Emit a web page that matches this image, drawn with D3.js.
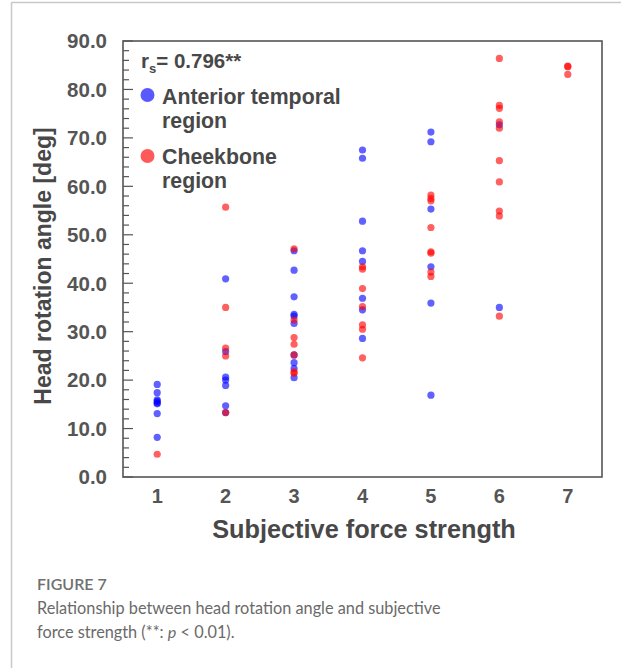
<!DOCTYPE html>
<html>
<head>
<meta charset="utf-8">
<script src="https://cdn.jsdelivr.net/npm/d3@7"></script>
<style>
  body { margin: 0; background: #fff; }
  svg { display: block; }
</style>
</head>
<body>
<div id="chart"></div>
<script>
// force strength levels (x) and head rotation angles (y)
var xTicks = [1, 2, 3, 4, 5, 6, 7]
var yTicks = [0, 10, 20, 30, 40, 50, 60, 70, 80, 90]

var temporalX = [1, 1, 1, 1, 1, 1, 1, 1,
                 2, 2, 2, 2, 2, 2, 2,
                 3, 3, 3, 3, 3, 3, 3, 3, 3, 3,
                 4, 4, 4, 4, 4, 4, 4, 4,
                 5, 5, 5, 5, 5, 5,
                 6, 6]
var temporalY = [19.1, 17.4, 15.9, 15.3, 15.1, 13.1, 8.2, 15.6,
                 40.9, 25.9, 20.6, 20.0, 18.9, 14.7, 13.3,
                 46.7, 42.7, 37.2, 33.6, 33.2, 31.7, 25.2, 23.6, 22.4, 20.5,
                 67.5, 65.8, 52.8, 46.7, 44.5, 36.9, 34.5, 28.6,
                 71.2, 69.2, 55.3, 43.4, 35.9, 16.9,
                 72.7, 35.0]

var cheekX = [1,
              2, 2, 2, 2, 2,
              3, 3, 3, 3, 3, 3, 3,
              4, 4, 4, 4, 4, 4, 4,
              5, 5, 5, 5, 5, 5, 5, 5,
              6, 6, 6, 6, 6, 6, 6, 6, 6, 6,
              7, 7, 7]
var cheekY = [4.7,
              55.7, 35.0, 26.6, 25.0, 13.3,
              47.1, 32.4, 28.8, 27.4, 25.2, 21.7, 21.4,
              43.4, 42.9, 38.9, 35.2, 31.4, 30.5, 24.6,
              58.2, 57.5, 57.0, 51.5, 46.5, 46.2, 42.3, 41.4,
              86.4, 76.7, 76.1, 73.3, 72.0, 65.3, 60.9, 54.9, 53.9, 33.2,
              84.8, 84.7, 83.1]

var seriesNames = ["Anterior temporal region", "Cheekbone region"]
var seriesColors = ["#0000ff", "#ff0000"]

var W = 621, H = 668
var svg = d3.select("#chart").append("svg").attr("width", W).attr("height", H)

// card outline
svg.append("line").attr("x1", 11.5).attr("x2", 11.5).attr("y1", 2.5).attr("y2", H)
  .attr("stroke", "#c8c8c8").attr("stroke-width", 1.5)
svg.append("line").attr("x1", 11.5).attr("x2", W).attr("y1", 2.5).attr("y2", 2.5)
  .attr("stroke", "#c8c8c8").attr("stroke-width", 1.5)

// plot box edges (note: "top" is taken by window.top)
var boxL = 123, boxR = 602, boxT = 41, boxB = 477
var x = d3.scaleLinear().domain([0.5, 7.5]).range([boxL, boxR])
var y = d3.scaleLinear().domain([0, 90]).range([boxB, boxT])

var axisCol = "#555"
var font = "'Liberation Sans', Arial, sans-serif"

// minor + major ticks, drawn inward from the left edge
var minor = d3.range(0, 90.01, 2)
svg.append("g").selectAll("line").data(minor).join("line")
  .attr("x1", boxL).attr("x2", function(d){ return boxL + (d % 10 === 0 ? 10 : 6) })
  .attr("y1", function(d){ return y(d) }).attr("y2", function(d){ return y(d) })
  .attr("stroke", axisCol).attr("stroke-width", 1.2)

svg.append("rect").attr("x", boxL).attr("y", boxT)
  .attr("width", boxR - boxL).attr("height", boxB - boxT)
  .attr("fill", "none").attr("stroke", axisCol).attr("stroke-width", 1.6)

svg.append("g").selectAll("text").data(yTicks).join("text")
  .attr("x", 107).attr("y", function(d){ return y(d) })
  .attr("dy", "0.36em").attr("text-anchor", "end")
  .attr("font-family", font).attr("font-weight", "bold").attr("font-size", 20.5)
  .attr("fill", axisCol).text(function(d){ return d3.format(".1f")(d) })

svg.append("g").selectAll("text").data(xTicks).join("text")
  .attr("x", function(d){ return x(d) }).attr("y", 503)
  .attr("text-anchor", "middle")
  .attr("font-family", font).attr("font-weight", "bold").attr("font-size", 20)
  .attr("fill", axisCol).text(function(d){ return d })

svg.append("text").attr("x", 364).attr("y", 538)
  .attr("text-anchor", "middle").attr("font-family", font).attr("font-weight", "bold")
  .attr("font-size", 25.3).attr("fill", "#484848").text("Subjective force strength")

svg.append("text").attr("transform", "translate(51,266) rotate(-90)")
  .attr("text-anchor", "middle").attr("font-family", font).attr("font-weight", "bold")
  .attr("font-size", 23).attr("fill", "#484848").text("Head rotation angle [deg]")

// points
function drawSeries(xs, ys, col){
  var pts = xs.map(function(v, i){ return {x: v, y: ys[i]} })
  svg.append("g").selectAll("circle").data(pts).join("circle")
    .attr("cx", function(d){ return x(d.x) }).attr("cy", function(d){ return y(d.y) })
    .attr("r", 3.6).attr("fill", col).attr("fill-opacity", 0.62)
}
drawSeries(temporalX, temporalY, seriesColors[0])
drawSeries(cheekX, cheekY, seriesColors[1])

// legend block
var lg = svg.append("g").attr("font-family", font).attr("font-weight", "bold").attr("fill", "#484848")
var rs = lg.append("text").attr("x", 141).attr("y", 68).attr("font-size", 20.5)
rs.append("tspan").text("r")
rs.append("tspan").attr("font-size", 13).attr("dy", 5).text("s")
rs.append("tspan").attr("dy", -5).text("= 0.796**")

var legRows = [{y: 95, base: 103.5, col: seriesColors[0], lines: ["Anterior temporal", "region"]},
               {y: 156, base: 163.5, col: seriesColors[1], lines: ["Cheekbone", "region"]}]
legRows.forEach(function(r){
  lg.append("circle").attr("cx", 147.5).attr("cy", r.y).attr("r", 7)
    .attr("fill", r.col).attr("fill-opacity", 0.65)
  r.lines.forEach(function(t, i){
    lg.append("text").attr("x", 162).attr("y", r.base + i * 24.5)
      .attr("font-size", 21.3).text(t)
  })
})

// caption
var cap = svg.append("g").attr("font-family", "Lato, 'Open Sans', sans-serif").attr("fill", "#6a6a6a")
cap.append("text").attr("x", 37).attr("y", 590).attr("font-size", 16).attr("font-weight", 600)
  .attr("fill", "#707070").text("FIGURE 7")
cap.append("text").attr("x", 37).attr("y", 614).attr("font-size", 16.3)
  .text("Relationship between head rotation angle and subjective")
var l2 = cap.append("text").attr("x", 37).attr("y", 638).attr("font-size", 16.3)
l2.append("tspan").text("force strength (**: ")
l2.append("tspan").attr("font-style", "italic").text("p")
l2.append("tspan").text(" < 0.01).")
</script>
</body>
</html>
